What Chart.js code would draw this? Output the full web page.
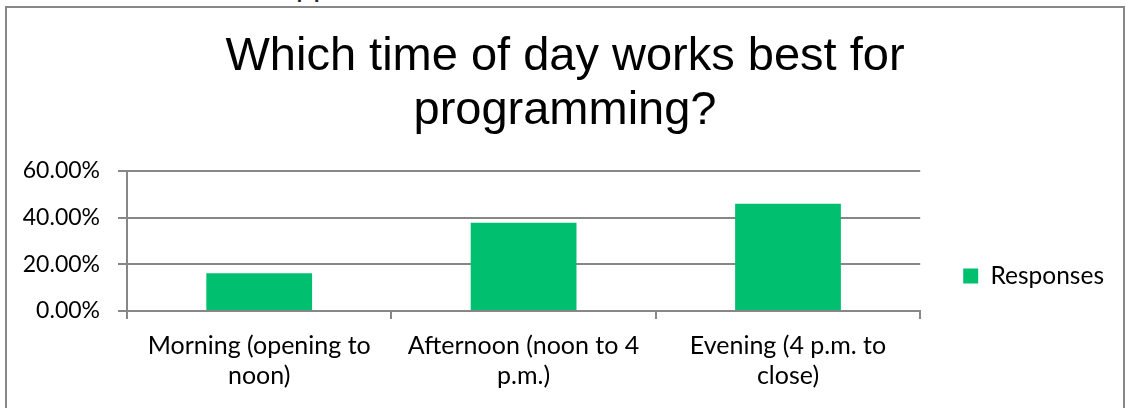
<!DOCTYPE html>
<html>

<head>
  <title>Which time of day works best for programming?</title>
  <script src="https://cdn.jsdelivr.net/npm/chart.js@4/dist/chart.umd.min.js"></script>
  <style>
    html, body {
      margin: 0;
      padding: 0;
      width: 1126px;
      height: 408px;
      overflow: hidden;
      background: #fff;
    }

    .cut {
      position: absolute;
      left: 296px;
      top: -33px;
      font-family: "Liberation Sans", Arial, sans-serif;
      font-size: 31px;
      color: #222;
    }

    .chart-box {
      position: absolute;
      left: 5px;
      top: 6px;
      width: 1116px;
      height: 540px;
      border: 2px solid #878787;
    }

    canvas {
      display: block;
    }
  </style>
</head>

<body>
  <div class="cut">pp</div>
  <div class="chart-box">
    <canvas id="timeChart" width="1116" height="536"></canvas>
  </div>

  <script>
    // survey data
    const categories = [
      ['Morning (opening to', 'noon)'],
      ['Afternoon (noon to 4', 'p.m.)'],
      ['Evening (4 p.m. to', 'close)']
    ];
    const responses = [0.1622, 0.3784, 0.4595];
    const yTickLabels = ['0.00%', '20.00%', '40.00%', '60.00%'];
    const seriesName = 'Responses';
    const titleLines = ['Which time of day works best for', 'programming?'];

    const gridGrey = '#878787';
    const sidePad = 9;

    const ctx = document.getElementById('timeChart').getContext('2d');

    const timeChart = new Chart(ctx, {
      type: 'bar',
      data: {
        labels: categories,
        datasets: [{
          label: seriesName,
          data: responses,
          backgroundColor: '#00bf6f',
          borderWidth: 0,
          barPercentage: 0.4,
          categoryPercentage: 1.0
        }]
      },
      options: {
        responsive: false,
        animation: false,
        devicePixelRatio: 1,
        layout: {
          // same padding both sides keeps the title centred on the box
          padding: { left: sidePad, top: 0, right: sidePad, bottom: 0 }
        },
        plugins: {
          title: {
            display: true,
            text: titleLines,
            color: '#000',
            font: { family: 'Liberation Sans', size: 47, weight: 'normal', lineHeight: 54 / 47 },
            padding: { top: 22, bottom: 33 }
          },
          legend: {
            display: true,
            position: 'right',
            labels: {
              boxWidth: 15,
              boxHeight: 15,
              padding: 43,
              color: '#000',
              font: { family: 'Lato', size: 24.5 }
            }
          },
          tooltip: { enabled: false }
        },
        scales: {
          x: {
            afterFit: (scale) => { scale.height = 233; },
            grid: {
              offset: true,
              drawOnChartArea: false,
              drawTicks: true,
              tickLength: 8,
              color: gridGrey,
              lineWidth: 2
            },
            border: { display: true, color: gridGrey, width: 2 },
            ticks: {
              color: '#000',
              font: { family: 'Lato', size: 25, lineHeight: 1.21 },
              padding: 12,
              maxRotation: 0
            }
          },
          y: {
            min: 0,
            max: 0.6,
            afterFit: (scale) => { scale.width = 120 - sidePad; },
            grid: {
              color: gridGrey,
              lineWidth: 2,
              tickLength: 9
            },
            border: { display: true, color: gridGrey, width: 2 },
            ticks: {
              stepSize: 0.2,
              color: '#000',
              font: { family: 'Lato', size: 23 },
              padding: 18,
              callback: (value, index) => yTickLabels[index]
            }
          }
        }
      }
    });
  </script>
</body>

</html>
